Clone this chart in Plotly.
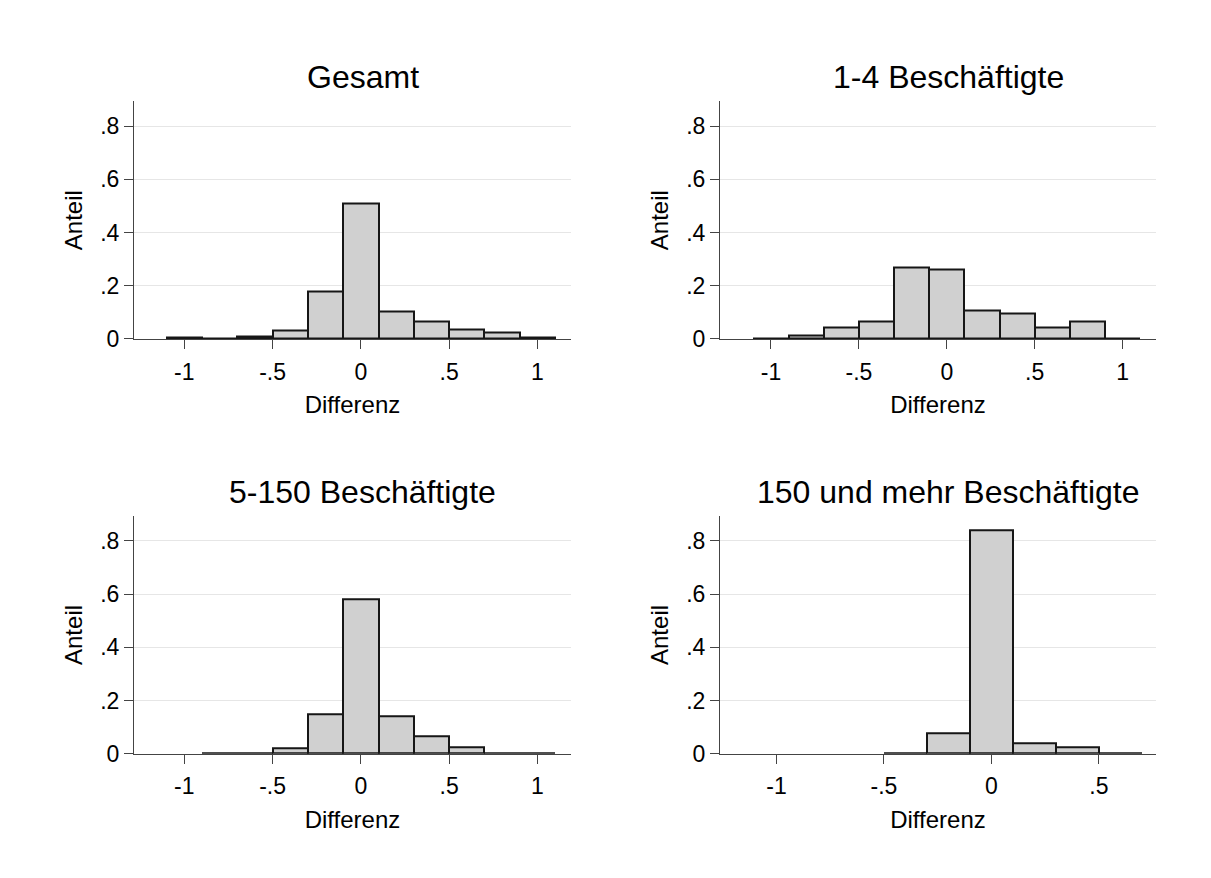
import plotly.graph_objects as go

# ---------------- data ----------------
bin_centers = [-1.0, -0.8, -0.6, -0.4, -0.2, 0.0, 0.2, 0.4, 0.6, 0.8, 1.0]
anteil_gesamt = [0.004, 0.0008, 0.010, 0.032, 0.178, 0.510, 0.104, 0.065, 0.036, 0.023, 0.005]
anteil_1_4 = [0.003, 0.013, 0.042, 0.067, 0.270, 0.263, 0.106, 0.095, 0.042, 0.065, 0.002]
anteil_5_150 = [None, 0.003, 0.0006, 0.022, 0.147, 0.579, 0.141, 0.064, 0.023, 0.001, 0.003]
bin_centers_150 = [-0.4, -0.2, 0.0, 0.2, 0.4, 0.6]
anteil_150 = [0.001, 0.078, 0.840, 0.040, 0.026, 0.002]

titles = ["Gesamt", "1-4 Beschäftigte", "5-150 Beschäftigte", "150 und mehr Beschäftigte"]
x_ticks_full = [-1, -0.5, 0, 0.5, 1]
x_ticktext_full = ["-1", "-.5", "0", ".5", "1"]
x_ticks_150 = [-1, -0.5, 0, 0.5]
x_ticktext_150 = ["-1", "-.5", "0", ".5"]
y_ticks = [0, 0.2, 0.4, 0.6, 0.8]
y_ticktext = ["0", ".2", ".4", ".6", ".8"]
x_title = "Differenz"
y_title = "Anteil"

# ---------------- layout geometry ----------------
W, H = 1211, 878
FONT = "Liberation Sans, Arial, Helvetica, sans-serif"
BIN_W = 0.2

panels = [
    dict(x=bin_centers, y=anteil_gesamt, px=(134, 571), py=(103, 344), xr=[-1.285, 1.19],
         tv=x_ticks_full, tt=x_ticktext_full, tcx=362.5),
    dict(x=bin_centers, y=anteil_1_4, px=(720, 1156), py=(103, 344), xr=[-1.29, 1.19],
         tv=x_ticks_full, tt=x_ticktext_full, tcx=948),
    dict(x=bin_centers, y=anteil_5_150, px=(134, 571), py=(524, 765), xr=[-1.285, 1.19],
         tv=x_ticks_full, tt=x_ticktext_full, tcx=362.5),
    dict(x=bin_centers_150, y=anteil_150, px=(720, 1156), py=(524, 765), xr=[-1.263, 0.766],
         tv=x_ticks_150, tt=x_ticktext_150, tcx=948),
]

fig = go.Figure()
annotations = []

for i, p in enumerate(panels):
    n = "" if i == 0 else str(i + 1)
    xa, ya = "x" + n, "y" + n
    fig.add_trace(go.Bar(
        x=p["x"], y=p["y"], width=BIN_W, xaxis=xa, yaxis=ya,
        marker=dict(color="#d0d0d0", line=dict(color="#161616", width=2)),
        showlegend=False, hoverinfo="x+y",
    ))
    xd = [p["px"][0] / W, p["px"][1] / W]
    yd = [1 - p["py"][1] / H, 1 - p["py"][0] / H]
    fig.layout["xaxis" + n] = dict(
        domain=xd, anchor=ya, range=p["xr"], tickmode="array",
        tickvals=p["tv"], ticktext=p["tt"], ticks="outside", ticklen=9,
        tickcolor="#444444", tickwidth=1, showline=True, linecolor="#444444",
        linewidth=1, showgrid=False, zeroline=False, ticklabelstandoff=3,
        tickfont=dict(family=FONT, size=23, color="#000000"),
        title=dict(text=x_title, font=dict(family=FONT, size=24, color="#000000"), standoff=12),
        fixedrange=True,
    )
    fig.layout["yaxis" + n] = dict(
        domain=yd, anchor=xa, range=[0, 0.893], tickmode="array",
        tickvals=y_ticks, ticktext=y_ticktext, ticks="outside", ticklen=9,
        tickcolor="#444444", tickwidth=1, showline=True, linecolor="#444444",
        linewidth=1, showgrid=True, gridcolor="#e6e6e6", gridwidth=1,
        zeroline=False,
        tickfont=dict(family=FONT, size=23, color="#000000"),
        title=dict(text=y_title, font=dict(family=FONT, size=24, color="#000000"), standoff=10),
        fixedrange=True,
    )
    ty = p["py"][0] - 25
    annotations.append(dict(
        text=titles[i], x=p["tcx"] / W, y=1 - ty / H, xref="paper", yref="paper",
        xanchor="center", yanchor="middle", showarrow=False,
        font=dict(family=FONT, size=32, color="#000000"),
    ))

fig.update_layout(
    width=W, height=H, margin=dict(l=0, r=0, t=0, b=0),
    paper_bgcolor="white", plot_bgcolor="white",
    bargap=0, annotations=annotations,
)

fig.write_html("out.html")
